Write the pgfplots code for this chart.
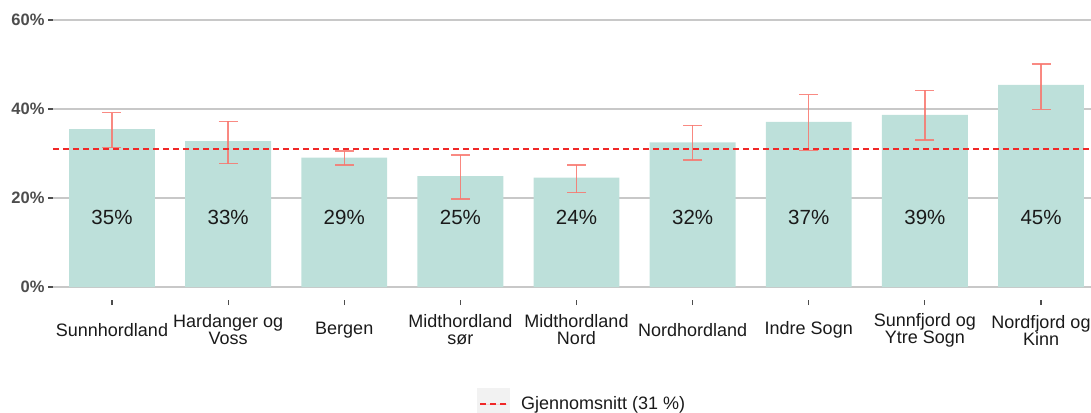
\documentclass[border=0pt]{standalone}
\usepackage{fontspec}
\setmainfont{Liberation Sans}
\usepackage{pgfplots}
\usepackage{pgfplotstable}
\pgfplotsset{compat=1.18}
\definecolor{barc}{RGB}{189,224,218}
\definecolor{errc}{RGB}{248,118,109}
\definecolor{avgc}{RGB}{240,40,40}
\definecolor{gridc}{RGB}{200,200,200}
\definecolor{tickc}{RGB}{77,77,77}
\definecolor{txtc}{RGB}{26,26,26}
\definecolor{keyc}{RGB}{242,242,242}

\pgfplotstableread{
x y ep em lab ly
0 35.5 3.7 4.2 35 15.7
1 32.8 4.4 5.1 33 15.7
2 29.1 1.5 1.7 29 15.7
3 24.9 4.8 5.1 25 15.7
4 24.6 2.8 3.4 24 15.7
5 32.5 3.8 4.0 32 15.7
6 37.1 6.1 6.4 37 15.7
7 38.7 5.5 5.7 39 15.7
8 45.4 4.7 5.5 45 15.7
}\data

\pgfplotstableread{
x y
-0.508 31
8.43 31
}\avg

\begin{document}
\begin{tikzpicture}
\useasboundingbox (0,0) rectangle (1091bp,413bp);
\begin{axis}[
  at={(53bp,113bp)}, anchor=south west,
  scale only axis, width=1038bp, height=288.9bp,
  xmin=-0.508, xmax=8.43, ymin=-2.92, ymax=62,
  axis x line*=bottom, axis y line*=left,
  x axis line style={draw=none}, y axis line style={draw=none},
  tick align=outside, major tick length=5bp,
  tick style={color=tickc, line width=1.2bp},
  xtick={0,...,8},
  xticklabels={Sunnhordland, Hardanger og\\Voss, Bergen, Midthordland\\sør, Midthordland\\Nord, Nordhordland, Indre Sogn, Sunnfjord og\\Ytre Sogn, Nordfjord og\\Kinn},
  xticklabel style={align=center, anchor=center, yshift=-25bp, font=\fontsize{18bp}{17bp}\selectfont, text=txtc},
  ytick={0,20,40,60},
  yticklabels={0\%,20\%,40\%,60\%},
  yticklabel style={font=\fontsize{16.5bp}{18bp}\selectfont\bfseries, text=tickc},
  ymajorgrids, grid style={color=gridc, line width=1.4bp},
  legend style={draw=none, fill=none, at={(axis description cs:0.4085,-0.36)}, anchor=west,
    font=\fontsize{18bp}{18bp}\selectfont, text=txtc, inner sep=0pt,
    /tikz/every odd column/.append style={column sep=9bp}},
  legend image code/.code={
    \fill[keyc] (0bp,-16bp) rectangle (33bp,16bp);
    \draw[avgc, line width=1.4bp, dash pattern=on 6bp off 4bp] (3bp,0bp) -- (30bp,0bp);
  },
]
\addplot[ybar, bar width=0.74, bar shift=0pt, fill=barc, draw=none,
  error bars/.cd, y dir=both, y explicit,
  error bar style={color=errc, opacity=0.85, line width=1.4bp},
  error mark options={color=errc, opacity=0.85, line width=1.4bp, mark size=9.5bp, rotate=90}]
  table[x=x, y=y, y error plus=ep, y error minus=em] \data;
\addplot[draw=none, mark=none, nodes near coords={\pgfplotspointmeta\%},
  point meta=explicit symbolic, forget plot,
  nodes near coords style={anchor=center, font=\fontsize{20.5bp}{22bp}\selectfont, text=txtc}]
  table[x=x, y=ly, meta=lab] \data;
\addplot[avgc, line width=1.4bp, dash pattern=on 6bp off 4bp] table[x=x, y=y] \avg;
\addlegendentry{Gjennomsnitt (31 \%)}
\end{axis}
\end{tikzpicture}
\end{document}
